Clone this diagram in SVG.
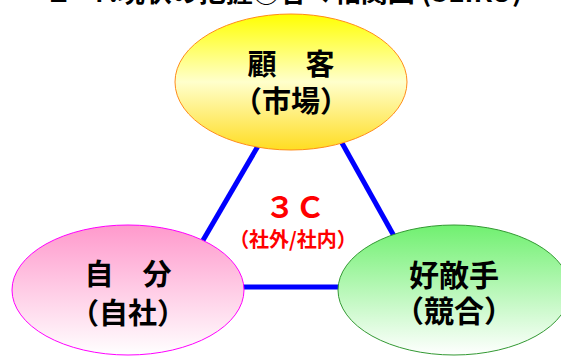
<svg xmlns="http://www.w3.org/2000/svg" width="561" height="356" viewBox="0 0 561 356">
<style>
.t{font-family:"Noto Sans CJK JP","Noto Sans",sans-serif;font-weight:bold;fill:#000;text-anchor:middle}
.red{font-family:"Noto Sans CJK JP","Noto Sans",sans-serif;font-weight:bold;fill:#ff0000;text-anchor:middle}
.conn{stroke:#0000ff;stroke-width:5;fill:none}
</style>
<defs>
<linearGradient id="gy" x1="0" y1="0" x2="0" y2="1">
<stop offset="0" stop-color="#ffff00"/>
<stop offset="0.5" stop-color="#ffffcc"/>
<stop offset="1" stop-color="#ffdd22"/>
</linearGradient>
<linearGradient id="gp" x1="0" y1="0" x2="0" y2="1">
<stop offset="0" stop-color="#ff99cc"/>
<stop offset="1" stop-color="#ffffff"/>
</linearGradient>
<linearGradient id="gg" x1="0" y1="0" x2="0" y2="1">
<stop offset="0" stop-color="#70f070"/>
<stop offset="1" stop-color="#ffffff"/>
</linearGradient>
</defs>
<rect width="561" height="356" fill="#ffffff"/>
<text class="t" x="45" y="2" font-size="27" style="text-anchor:start">１-４.現状の把握③各々相関図 (SEIKO)</text>
<g id="connectors">
<line class="conn" x1="258" y1="146" x2="202" y2="242"/>
<line class="conn" x1="342" y1="143" x2="394" y2="236"/>
<line class="conn" x1="240" y1="287" x2="342" y2="287"/>
</g>
<g id="center">
<text class="red" x="295" y="218" font-size="30">３Ｃ</text>
<text class="red" x="293" y="247" font-size="20">（社外/社内）</text>
</g>
<g id="customer">
<ellipse cx="291" cy="82" rx="116" ry="68" fill="url(#gy)" stroke="#ff8c1a" stroke-width="1"/>
<text class="t" x="291" y="75" font-size="29">顧　客</text>
<text class="t" x="291" y="112" font-size="29">（市場）</text>
</g>
<g id="self">
<ellipse cx="128" cy="290" rx="116" ry="65" fill="url(#gp)" stroke="#ff00ff" stroke-width="1"/>
<text class="t" x="128" y="285" font-size="29">自　分</text>
<text class="t" x="128" y="324" font-size="29">（自社）</text>
</g>
<g id="competitor">
<ellipse cx="454" cy="290" rx="116" ry="65" fill="url(#gg)" stroke="#339933" stroke-width="1"/>
<text class="t" x="454" y="286" font-size="30">好敵手</text>
<text class="t" x="454" y="322" font-size="30">（競合）</text>
</g>
</svg>
